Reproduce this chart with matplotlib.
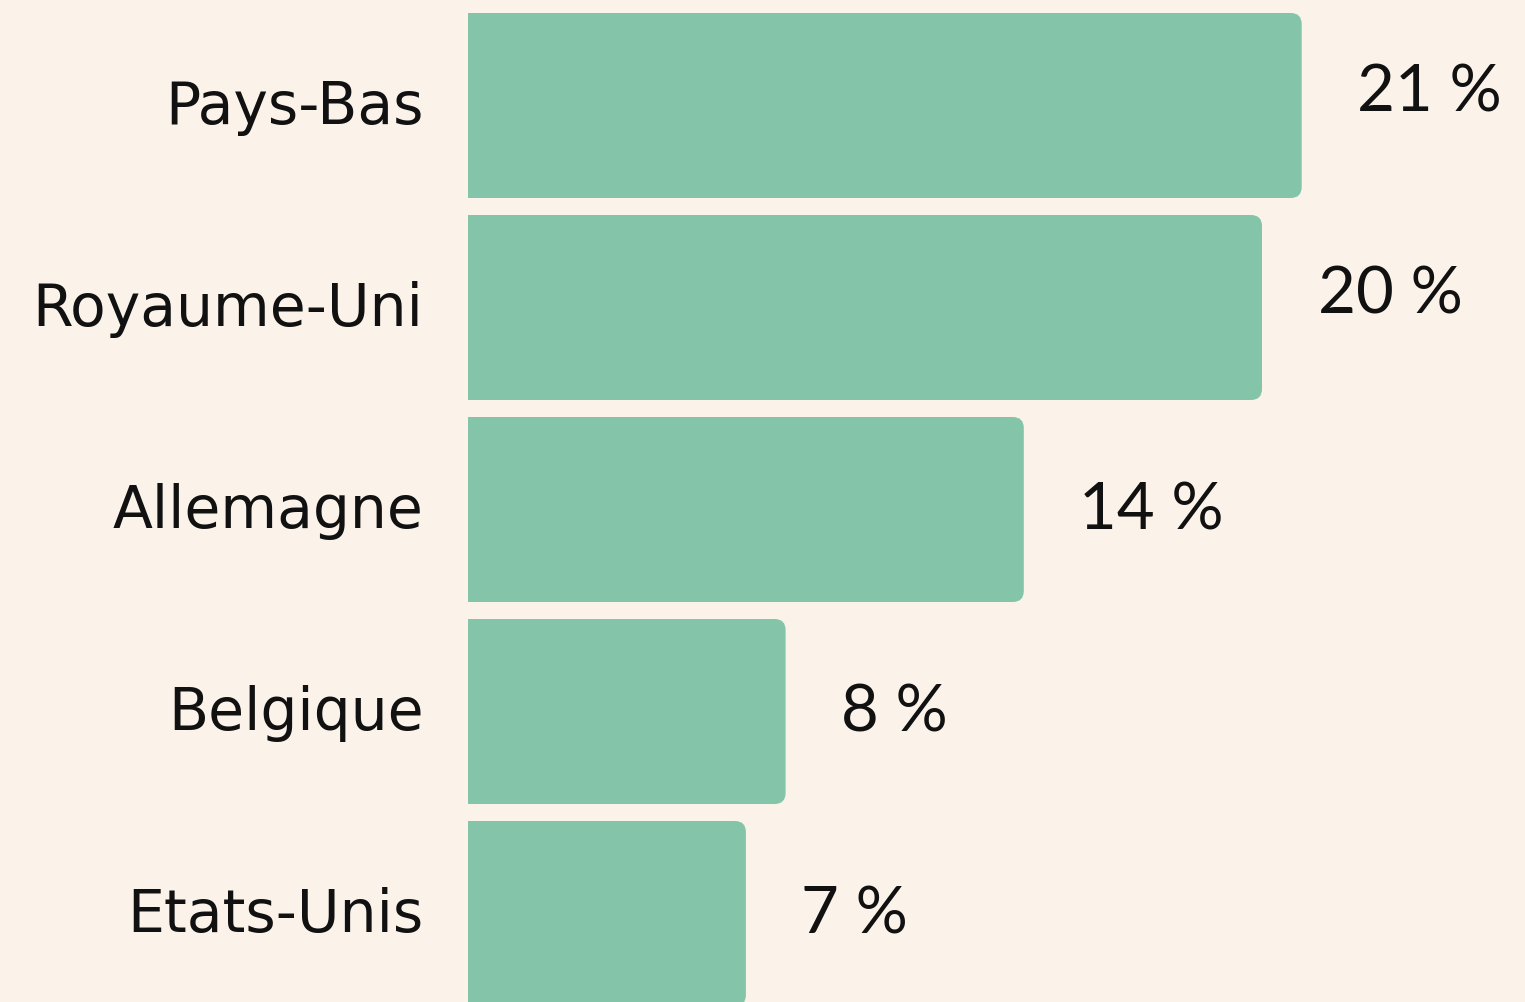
import matplotlib
matplotlib.use("Agg")
import matplotlib.pyplot as plt
import matplotlib.transforms as mtransforms
from matplotlib.patches import FancyBboxPatch
import numpy as np

categories = ["Pays-Bas", "Royaume-Uni", "Allemagne", "Belgique", "Etats-Unis"]
values = [21, 20, 14, 8, 7]
value_labels = ["21 %", "20 %", "14 %", "8 %", "7 %"]

BG = "#FBF2EA"
BAR = "#84C5A9"
W, H = 1525, 1002
DPI = 100

fig = plt.figure(figsize=(W / DPI, H / DPI), dpi=DPI, facecolor=BG)
left_px = 468
ax = fig.add_axes([left_px / W, 0, 1 - left_px / W, 1])
ax.set_facecolor(BG)

px_per_unit_x = 39.7
pitch = 202.0
ax.set_xlim(0, (W - left_px) / px_per_unit_x)
top_center = 105.5
ax.set_ylim((H - top_center) / pitch, (0 - top_center) / pitch)

y = np.arange(len(categories))
bars = ax.barh(y, values, height=185 / pitch, color=BAR)

r_px = 11
r_x = r_px / px_per_unit_x
aspect = (r_px / pitch) / r_x
for rect in bars:
    x0, y0 = rect.get_x(), rect.get_y()
    w, h = rect.get_width(), rect.get_height()
    p = FancyBboxPatch((x0 - 1, y0), w + 1, h,
                       boxstyle=f"round,pad=0,rounding_size={r_x}",
                       mutation_aspect=aspect, facecolor=BAR, edgecolor="none")
    ax.add_patch(p)
    rect.remove()

for i, (v, lab) in enumerate(zip(values, value_labels)):
    ax.annotate(lab, xy=(v, i), xytext=(40, 9 if i < 2 else -1),
                textcoords="offset points", ha="left", va="center",
                fontsize=47, fontfamily=["Lato", "DejaVu Sans"], fontweight="normal",
                color="#111111")

ax.set_yticks(y)
ax.set_yticklabels(categories, fontsize=42, fontfamily="DejaVu Sans",
                   fontweight="normal", color="#111111")
ax.tick_params(axis="y", length=0, pad=32)
shift = mtransforms.ScaledTranslation(0, 3 / 72, fig.dpi_scale_trans)
for t in ax.get_yticklabels():
    t.set_transform(t.get_transform() + shift)
ax.set_xticks([])
for s in ax.spines.values():
    s.set_visible(False)

fig.savefig("out.png", dpi=DPI, facecolor=BG)
